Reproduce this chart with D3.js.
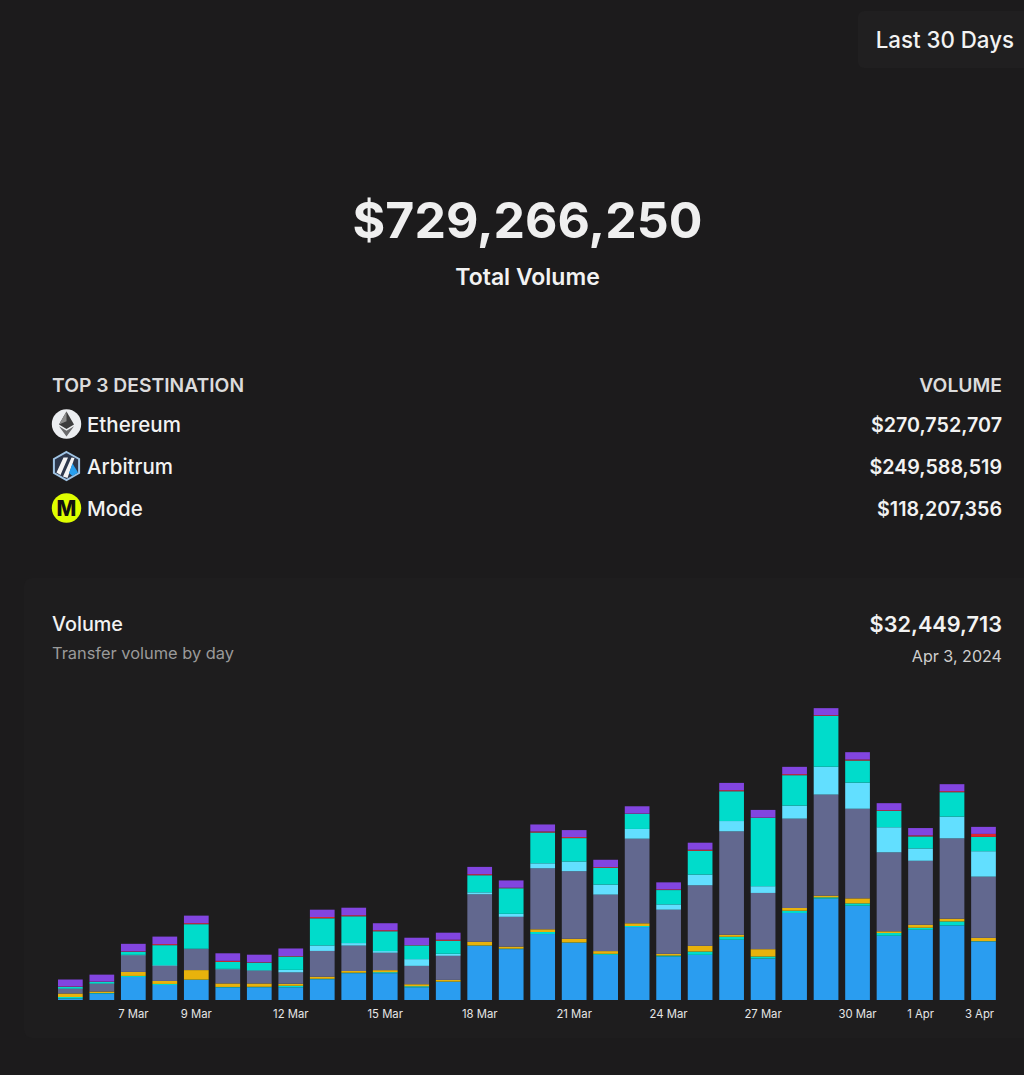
<!DOCTYPE html>
<html>
<head>
<meta charset="utf-8">
<script src="https://cdn.jsdelivr.net/npm/d3@7"></script>
<style>
html, body { margin: 0; padding: 0; background: #1c1b1c; overflow: hidden; }
text { font-family: Inter, "Noto Sans", sans-serif; }
</style>
</head>
<body>
<svg id="chart" width="1024" height="1075"></svg>
<script>
'use strict'

const days = ["5 Mar","6 Mar","7 Mar","8 Mar","9 Mar","10 Mar","11 Mar","12 Mar","13 Mar","14 Mar","15 Mar","16 Mar","17 Mar","18 Mar","19 Mar","20 Mar","21 Mar","22 Mar","23 Mar","24 Mar","25 Mar","26 Mar","27 Mar","28 Mar","29 Mar","30 Mar","31 Mar","1 Apr","2 Apr","3 Apr"]
const tickDays = ["7 Mar","9 Mar","12 Mar","15 Mar","18 Mar","21 Mar","24 Mar","27 Mar","30 Mar","1 Apr","3 Apr"]

// daily volume per chain, $M, stacked bottom to top
const blue = [0.28,1.22,4.31,2.81,3.75,2.35,2.38,2.38,3.88,5.01,5.01,2.38,3.38,10.13,9.51,12.33,10.69,8.44,13.64,8.12,8.44,11.26,7.75,16.26,18.95,17.63,12.01,13.13,13.94,10.94]
const tealSmall = [0.28,0.09,0.19,0.19,0.06,0.09,0.09,0.28,0.09,0.09,0.19,0.19,0.06,0.06,0.09,0.38,0.06,0.19,0.19,0.19,0.62,0.56,0.38,0.43,0.24,0.43,0.51,0.38,0.75,0.06]
const yellow = [0.66,0.28,0.75,0.56,1.78,0.66,0.62,0.38,0.38,0.32,0.38,0.38,0.32,0.69,0.38,0.51,0.69,0.51,0.51,0.32,1.07,0.38,1.37,0.51,0.32,0.94,0.32,0.56,0.51,0.62]
const slate = [0.84,1.41,3.10,2.81,3.94,2.63,2.38,2.12,4.82,4.75,3.25,3.43,4.50,8.87,5.57,11.39,12.63,10.56,15.81,8.25,11.31,19.32,10.51,16.70,18.89,16.75,14.76,11.95,15.01,11.44]
const cyan = [0.09,0.09,0.09,0.13,0.06,0.09,0.09,0.47,1.03,0.47,0.32,1.26,0.38,0.38,0.56,0.94,1.82,1.88,1.82,0.99,2.01,1.93,1.26,2.44,5.20,4.88,4.69,2.31,4.07,4.75]
const teal = [0.28,0.28,0.56,3.75,4.58,1.31,1.41,2.50,5.07,5.01,3.70,2.57,2.44,3.19,4.78,5.76,4.37,3.13,2.81,2.68,4.45,5.57,12.76,5.68,9.51,4.13,3.06,2.25,4.56,2.68]
const red = [0.09,0.06,0.09,0.19,0.19,0.19,0.09,0.09,0.24,0.19,0.19,0.06,0.19,0.19,0.09,0.19,0.19,0.13,0.06,0.13,0.19,0.19,0.06,0.19,0.13,0.19,0.13,0.19,0.19,0.56]
const purple = [1.31,1.31,1.41,1.41,1.41,1.41,1.41,1.41,1.37,1.41,1.31,1.37,1.31,1.37,1.37,1.31,1.31,1.37,1.37,1.31,1.31,1.37,1.44,1.37,1.31,1.37,1.31,1.37,1.31,1.31]

const seriesNames = ["blue","tealSmall","yellow","slate","cyan","teal","red","purple"]
const seriesValues = [blue,tealSmall,yellow,slate,cyan,teal,red,purple]
const seriesColors = ["#2a9df0","#00dccb","#e8b20c","#62688f","#62dfff","#00dccb","#e0262f","#8245e0"]

const destNames = ["Ethereum","Arbitrum","Mode"]
const destVolumes = ["$270,752,707","$249,588,519","$118,207,356"]

let svg = d3.select("#chart")

// range button top right
svg.append("rect").attr("x",858).attr("y",11).attr("width",180).attr("height",57).attr("rx",6).attr("fill","#201f20")
svg.append("text").attr("x",1014).attr("y",47.5).attr("text-anchor","end").attr("font-size",22.3).attr("font-weight",500).attr("fill","#f2f2f2").text("Last 30 Days")

// headline
svg.append("text").attr("x",527.5).attr("y",237.5).attr("text-anchor","middle").attr("font-size",50).attr("font-weight",700).attr("fill","#efefef").text("$729,266,250")
svg.append("text").attr("x",527.5).attr("y",285).attr("text-anchor","middle").attr("font-size",23).attr("font-weight",600).attr("fill","#f2f2f2").text("Total Volume")

// top 3 table
svg.append("text").attr("x",52).attr("y",392).attr("font-size",19.3).attr("font-weight",600).attr("fill","#dcdcdc").text("TOP 3 DESTINATION")
svg.append("text").attr("x",1002).attr("y",392).attr("text-anchor","end").attr("font-size",19.3).attr("font-weight",600).attr("fill","#dcdcdc").text("VOLUME")

let rowY = d3.scalePoint().domain(destNames).range([424,508])
destNames.forEach(function(name, i){
	svg.append("text").attr("x",87).attr("y",rowY(name)+8).attr("font-size",20.5).attr("font-weight",500).attr("fill","#f2f2f2").text(name)
	svg.append("text").attr("x",1002).attr("y",rowY(name)+8).attr("text-anchor","end").attr("font-size",19.7).attr("font-weight",600).attr("fill","#f2f2f2").text(destVolumes[i])
})

// icons
let eth = svg.append("g").attr("transform","translate(66.5,"+rowY("Ethereum")+")")
eth.append("circle").attr("r",14.7).attr("fill","#eceef1")
eth.append("path").attr("d","M0,-12.5 L-7.5,0.5 L0,5 L7.5,0.5 Z").attr("fill","#3c3c3d")
eth.append("path").attr("d","M0,-12.5 L-7.5,0.5 L0,-2.8 Z").attr("fill","#8c8c8c")
eth.append("path").attr("d","M-7.5,2.2 L0,12.5 L7.5,2.2 L0,6.8 Z").attr("fill","#6b6b6d")

let arb = svg.append("g").attr("transform","translate(66.5,"+rowY("Arbitrum")+")")
arb.append("path").attr("d","M0,-14 L12.6,-7 L12.6,7 L0,14 L-12.6,7 L-12.6,-7 Z").attr("fill","#2d374b").attr("stroke","#a0c4e4").attr("stroke-width",2)
arb.append("path").attr("d","M-10,6.5 L-3,-8.5 L1.5,-8.5 L-6,9 Z M-3.5,10.5 L5,-8.5 L8,-8 L1,12 Z").attr("fill","#f4f4f4")
arb.append("path").attr("d","M6,-2.5 L11.5,6.5 L6,10 L2.5,7 Z").attr("fill","#28a0f0")

let mode = svg.append("g").attr("transform","translate(66.5,"+rowY("Mode")+")")
mode.append("circle").attr("r",14.7).attr("fill","#dffe00")
mode.append("text").attr("y",7.5).attr("text-anchor","middle").attr("font-size",21).attr("font-weight",800).attr("fill","#111").text("M")

// volume card
svg.append("rect").attr("x",24).attr("y",578).attr("width",1030).attr("height",460).attr("rx",8).attr("fill","#1e1d1e")
svg.append("text").attr("x",52).attr("y",631).attr("font-size",19.8).attr("font-weight",500).attr("fill","#f2f2f2").text("Volume")
svg.append("text").attr("x",52).attr("y",659).attr("font-size",16.4).attr("font-weight",400).attr("fill","#9a9a9a").text("Transfer volume by day")
svg.append("text").attr("x",1002).attr("y",632).attr("text-anchor","end").attr("font-size",21.7).attr("font-weight",600).attr("fill","#f2f2f2").text("$32,449,713")
svg.append("text").attr("x",1002).attr("y",662).attr("text-anchor","end").attr("font-size",16.1).attr("font-weight",400).attr("fill","#cfcfcf").text("Apr 3, 2024")

// stacked bars
let rows = days.map(function(d, i){
	let row = {day: d}
	seriesNames.forEach(function(n, k){ row[n] = seriesValues[k][i] })
	return row
})
let stacked = d3.stack().keys(seriesNames)(rows)

let x = d3.scaleBand().domain(days).range([54.85,999]).paddingInner(0.215).paddingOuter(0.1)
let y = d3.scaleLinear().domain([0,60]).range([1000,679])

let layers = svg.append("g").selectAll("g").data(stacked).join("g").attr("fill", function(d, i){ return seriesColors[i] })
layers.selectAll("rect").data(function(d){ return d }).join("rect")
	.attr("x", function(d){ return x(d.data.day) })
	.attr("width", x.bandwidth())
	.attr("y", function(d){ return y(d[1]) })
	.attr("height", function(d){ return y(d[0]) - y(d[1]) })

let xAxis = d3.axisBottom(x).tickValues(tickDays).tickSize(0).tickPadding(10)
let axisG = svg.append("g").attr("transform","translate(0,1000)").call(xAxis)
axisG.select(".domain").remove()
axisG.selectAll("text").attr("font-size",11.3).attr("font-family","Inter, sans-serif").attr("fill","#e6e6e6")
// last label sits a bit left of its bar in the original
axisG.selectAll(".tick").filter(function(d){ return d == "3 Apr" }).select("text").attr("dx",-4)
</script>
</body>
</html>
